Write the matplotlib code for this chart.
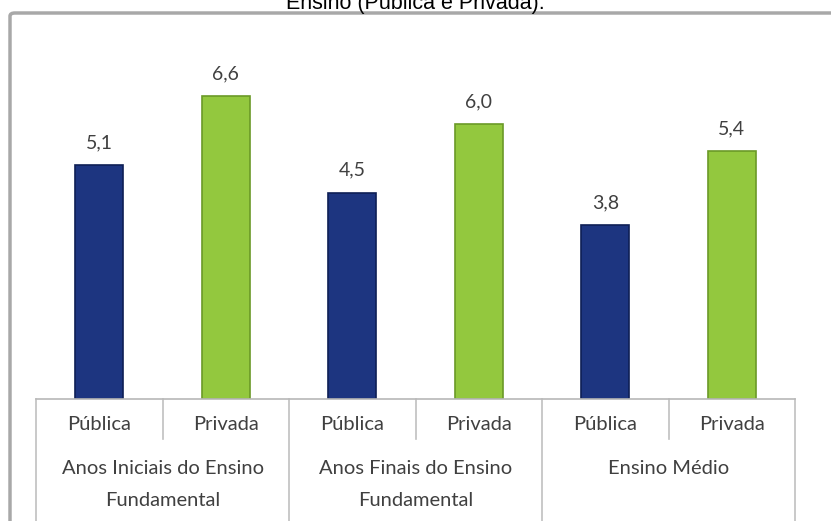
import matplotlib.pyplot as plt
from matplotlib.patches import FancyBboxPatch
from matplotlib.lines import Line2D

# data
groups = ['Anos Iniciais do Ensino\nFundamental', 'Anos Finais do Ensino\nFundamental', 'Ensino Médio']
redes = ['Pública', 'Privada']
valores = [5.1, 6.6, 4.5, 6.0, 3.8, 5.4]
title = 'Ensino (Pública e Privada).'

azul = '#1d3580'
azul_borda = '#0e1f55'
verde = '#93c83e'
verde_borda = '#6b9a27'
cinza_txt = '#404040'

W, H = 831, 521
fig = plt.figure(figsize=(W / 100, H / 100), dpi=100)

# outer chart frame (cut off at the right and bottom)
frame = FancyBboxPatch((10 / W, -0.05), 1.0, 1 - 13 / H + 0.05,
                       boxstyle='round,pad=0,rounding_size=0.006',
                       transform=fig.transFigure, facecolor='white',
                       edgecolor='#a8a8a8', linewidth=2.5, zorder=-5)
fig.patches.append(frame)

fig.text(0.5, 1 - 9 / H, title, ha='center', va='baseline',
         fontsize=15.5, family='Liberation Sans', color='black')

ax = fig.add_axes([36 / W, 1 - 399 / H, (795 - 36) / W, (399 - 32) / H])
ax.set_facecolor('none')

x = list(range(len(valores)))
cores = [azul if i % 2 == 0 else verde for i in x]
bordas = [azul_borda if i % 2 == 0 else verde_borda for i in x]
bars = ax.bar(x, valores, width=0.38, color=cores, edgecolor=bordas, linewidth=1.2)

for b, v in zip(bars, valores):
    ax.text(b.get_x() + b.get_width() / 2, v + 0.3, f'{v:.1f}'.replace('.', ','),
            ha='center', va='bottom', fontsize=14, family='Lato', color=cinza_txt)

ax.set_xlim(-0.5, len(valores) - 0.5)
ax.set_ylim(0, 8)
ax.set_xticks([])
ax.set_yticks([])
for s in ['top', 'left', 'right']:
    ax.spines[s].set_visible(False)
ax.spines['bottom'].set_color('#b8b8b8')
ax.spines['bottom'].set_linewidth(1.2)


# category table below the axis
def yax(pix):
    return -(pix - 399) / (399 - 32)


trans = ax.get_xaxis_transform()
for i in x:
    ax.text(i, yax(425), redes[i % 2], transform=trans, ha='center', va='center',
            fontsize=14.5, family='Lato', color=cinza_txt)
for g, nome in enumerate(groups):
    ax.text(2 * g + 0.5, yax(460), nome, transform=trans, ha='center', va='top',
            fontsize=14.5, family='Lato', color=cinza_txt, linespacing=2.05)

for g in range(len(groups) + 1):
    xv = 2 * g - 0.5
    ax.add_line(Line2D([xv, xv], [0, yax(530)], transform=trans, color='#c0c0c0',
                       linewidth=1.2, clip_on=False))
for g in range(len(groups)):
    xv = 2 * g + 0.5
    ax.add_line(Line2D([xv, xv], [0, yax(439)], transform=trans, color='#c0c0c0',
                       linewidth=1.2, clip_on=False))

fig.savefig('out.png', dpi=100)
